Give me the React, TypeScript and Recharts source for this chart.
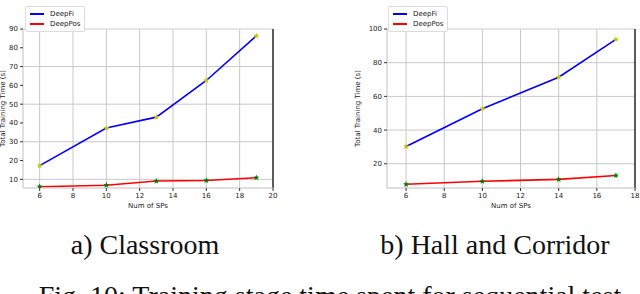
import React from "react";
import {
  CartesianGrid,
  Label,
  Legend,
  Line,
  LineChart,
  ReferenceLine,
  XAxis,
  YAxis
} from "recharts";

// a) Classroom
const classroomSPs = [6, 10, 13, 16, 19];
const classroomDeepFi = [17.3, 37.3, 43.1, 62.6, 86.4];
const classroomDeepPos = [6.1, 6.9, 9.1, 9.4, 10.9];
const classroomXTicks = [6, 8, 10, 12, 14, 16, 18, 20];
const classroomYTicks = [10, 20, 30, 40, 50, 60, 70, 80, 90];

// b) Hall and Corridor
const hallSPs = [6, 10, 14, 17];
const hallDeepFi = [30.2, 52.7, 71.4, 93.8];
const hallDeepPos = [7.8, 9.6, 10.7, 13.0];
const hallXTicks = [6, 8, 10, 12, 14, 16, 18];
const hallYTicks = [20, 40, 60, 80, 100];

const seriesNames = ["DeepFi", "DeepPos"];
const lineColors = ["#0000ff", "#ff0000"];
const markerColors = ["#c8c800", "#008000"];

const tickFont = { fontFamily: "DejaVu Sans", fontSize: 7, fill: "#222" };

function Star(props: any) {
  const { cx, cy, fill } = props;
  if (cx == null || cy == null) return null;
  const pts: string[] = [];
  for (let i = 0; i < 10; i++) {
    const r = i % 2 === 0 ? 3.2 : 1.4;
    const a = -Math.PI / 2 + (i * Math.PI) / 5;
    pts.push(`${cx + r * Math.cos(a)},${cy + r * Math.sin(a)}`);
  }
  return <polygon points={pts.join(" ")} fill={fill} />;
}

function LegendBox() {
  return (
    <div
      style={{
        background: "#fff",
        border: "1px solid #dcdcdc",
        borderRadius: 2,
        padding: "2px 4px 2px 4px",
        fontFamily: "DejaVu Sans",
        fontSize: 7,
        color: "#222",
        lineHeight: "10px"
      }}
    >
      {seriesNames.map((name, i) => (
        <div key={name} style={{ display: "flex", alignItems: "center" }}>
          <span
            style={{
              display: "inline-block",
              width: 14,
              height: 2,
              background: lineColors[i],
              marginRight: 6
            }}
          />
          {name}
        </div>
      ))}
    </div>
  );
}

interface PanelProps {
  sps: number[];
  deepFi: number[];
  deepPos: number[];
  xTicks: number[];
  yTicks: number[];
  xDomain: [number, number];
  yDomain: [number, number];
  left: number;
  width: number;
  yAxisWidth: number;
  labelOffset: number;
  legendLeft: number;
}

function Panel(p: PanelProps) {
  const data = p.sps.map((x, i) => ({ sp: x, DeepFi: p.deepFi[i], DeepPos: p.deepPos[i] }));
  return (
    <div style={{ position: "absolute", left: p.left, top: 0 }}>
      <LineChart
        width={p.width}
        height={215}
        data={data}
        margin={{ top: 3, right: 5, bottom: 0, left: 0 }}
      >
        <CartesianGrid stroke="#c8c8c8" />
        <XAxis
          dataKey="sp"
          type="number"
          domain={p.xDomain}
          ticks={p.xTicks}
          allowDataOverflow
          height={27}
          tick={tickFont}
          tickSize={3}
          tickLine={{ stroke: "#333" }}
          axisLine={{ stroke: "#dcdcdc" }}
        >
          <Label
            value="Num of SPs"
            position="insideBottom"
            offset={7}
            style={{ fontFamily: "DejaVu Sans", fontSize: 7, fill: "#222" }}
          />
        </XAxis>
        <YAxis
          type="number"
          domain={p.yDomain}
          ticks={p.yTicks}
          allowDataOverflow
          width={p.yAxisWidth}
          tick={tickFont}
          tickSize={3}
          tickLine={{ stroke: "#333" }}
          axisLine={{ stroke: "#dcdcdc" }}
        >
          <Label
            value="Total Training Time (s)"
            angle={-90}
            position="insideLeft"
            offset={p.labelOffset}
            style={{ textAnchor: "middle", fontFamily: "DejaVu Sans", fontSize: 7, fill: "#222" }}
          />
        </YAxis>
        <ReferenceLine y={p.yDomain[1]} stroke="#e6e6e6" />
        <ReferenceLine x={p.xDomain[1]} stroke="#000" strokeWidth={1.2} />
        <Legend
          layout="vertical"
          align="center"
          verticalAlign="top"
          content={() => <LegendBox />}
          wrapperStyle={{ left: p.legendLeft, top: 6, width: "auto" }}
        />
        {seriesNames.map((name, i) => (
          <Line
            key={name}
            dataKey={name}
            stroke={lineColors[i]}
            strokeWidth={1.6}
            isAnimationActive={false}
            dot={<Star fill={markerColors[i]} />}
            activeDot={false}
          />
        ))}
      </LineChart>
    </div>
  );
}

const captionStyle: React.CSSProperties = {
  position: "absolute",
  fontFamily: "Liberation Serif",
  fontSize: 28,
  color: "#111",
  whiteSpace: "nowrap",
  transform: "translateX(-50%)"
};

export default function App() {
  return (
    <div
      style={{
        position: "absolute",
        left: 0,
        top: 0,
        width: 640,
        height: 294,
        overflow: "hidden",
        background: "#fff"
      }}
    >
      <Panel
        sps={classroomSPs}
        deepFi={classroomDeepFi}
        deepPos={classroomDeepPos}
        xTicks={classroomXTicks}
        yTicks={classroomYTicks}
        xDomain={[5, 20]}
        yDomain={[5.4, 90]}
        left={0}
        width={278}
        yAxisWidth={23}
        labelOffset={3}
        legendLeft={25}
      />
      <Panel
        sps={hallSPs}
        deepFi={hallDeepFi}
        deepPos={hallDeepPos}
        xTicks={hallXTicks}
        yTicks={hallYTicks}
        xDomain={[5, 18]}
        yDomain={[5.6, 100]}
        left={340}
        width={300}
        yAxisWidth={47}
        labelOffset={18}
        legendLeft={48}
      />
      <div style={{ ...captionStyle, left: 145, top: 229 }}>a) Classroom</div>
      <div style={{ ...captionStyle, left: 495, top: 229 }}>b) Hall and Corridor</div>
      <div style={{ ...captionStyle, left: 330, top: 280 }}>
        Fig. 10: Training stage time spent for sequential test
      </div>
    </div>
  );
}
